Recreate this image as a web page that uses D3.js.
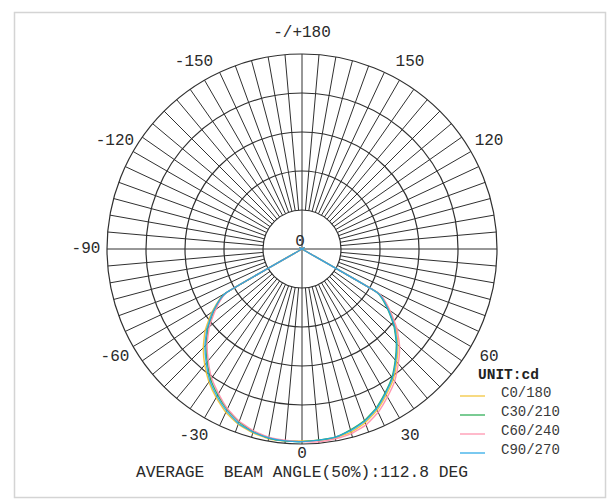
<!DOCTYPE html>
<html><head><meta charset="utf-8">
<script src="https://cdn.jsdelivr.net/npm/d3@7"></script>
<style>html,body{margin:0;padding:0;background:#fff;}svg{display:block;}</style>
</head><body>
<svg id="chart" width="616" height="501"></svg>
<script>
// ---- data ----
const gammaAngles = [-90,-85,-80,-75,-70,-65,-60,-55,-50,-45,-40,-35,-30,-25,-20,-15,-10,-5,0,5,10,15,20,25,30,35,40,45,50,55,60,65,70,75,80,85,90];
const seriesNames = ["C0/180","C30/210","C60/240","C90/270"];
const seriesColors = ["#f2c230","#22a84c","#ff8ca8","#22a6e6"];
const c0_180 = [0,0,0,0,0,0,114,141,162,179,194,208,220,231,239,244,247,247,246,246,246,243,237,228,216,204,189,174,157,137,112,0,0,0,0,0,0];
const c30_210 = [0,0,0,0,0,0,112,137,157,174,189,204,216,227,236,242,246,247,247,246,245,240,234,225,213,201,186,171,154,134,110,0,0,0,0,0,0];
const c60_240 = [0,0,0,0,0,0,111,135,155,172,187,202,214,226,235,241,245,246,247,248,247,245,240,231,219,207,192,177,159,138,113,0,0,0,0,0,0];
const c90_270 = [0,0,0,0,0,0,113,139,159,176,191,206,218,229,238,243,246,247,247,246,245,241,235,226,214,202,187,172,155,135,111,0,0,0,0,0,0];
const seriesValues = [c0_180, c30_210, c60_240, c90_270];
const ringValues = [50,100,150,200,250];
const tickAngles = [180,-150,150,-120,120,-90,-60,60,-30,30,0];
const tickLabels = ["-/+180","-150","150","-120","120","-90","-60","60","-30","30","0"];
const spokeAngles = d3.range(-175, 181, 5);
const footerText = "AVERAGE  BEAM ANGLE(50%):112.8 DEG";
const unitText = "UNIT:cd";

// ---- layout ----
const W = 616, H = 501;
const cx = 302, cy = 249, R = 195;
const font = "'Liberation Mono', 'DejaVu Sans Mono', monospace";

const svg = d3.select("#chart");
svg.append("rect").attr("x",0).attr("y",0).attr("width",W).attr("height",H).attr("fill","#fff");
svg.append("rect").attr("x",14.5).attr("y",12.5).attr("width",591).attr("height",485)
  .attr("fill","none").attr("stroke","#d4d4d4").attr("stroke-width",1.5);

const r = d3.scaleLinear().domain([0, 250]).range([0, R]);
// gamma angle measured from nadir (down), positive to the right; d3 radial angle from 12 o'clock clockwise
const a = d3.scaleLinear().domain([-180, 180]).range([2*Math.PI, 0]);

const g = svg.append("g").attr("transform", `translate(${cx},${cy})`);
const px = (ang, rad) => rad * Math.sin(a(ang));
const py = (ang, rad) => -rad * Math.cos(a(ang));

const gridColor = "#303030";
// spokes every 5 degrees from first ring to outer ring
g.append("g").selectAll("line").data(spokeAngles).join("line")
  .attr("x1", d => px(d, (d % 90 === 0) ? 0 : r(ringValues[0])))
  .attr("y1", d => py(d, (d % 90 === 0) ? 0 : r(ringValues[0])))
  .attr("x2", d => px(d, r(250)))
  .attr("y2", d => py(d, r(250)))
  .attr("stroke", gridColor).attr("stroke-width", 1);

// rings
g.append("g").selectAll("circle").data(ringValues).join("circle")
  .attr("r", d => r(d)).attr("fill","none")
  .attr("stroke", gridColor).attr("stroke-width", 1.2);

// curves
const line = d3.lineRadial()
  .angle(d => a(d[0]))
  .radius(d => r(d[1]))
  .curve(d3.curveCardinal.tension(0.6));
seriesValues.forEach((vals, i) => {
  const pts = gammaAngles.map((ang, j) => [ang, vals[j]]);
  g.append("path").datum(pts).attr("d", line)
    .attr("fill","none").attr("stroke", seriesColors[i]).attr("stroke-width", 1.4)
    .attr("stroke-opacity", 0.9);
});

// tick labels
g.append("g").selectAll("text").data(tickAngles).join("text")
  .attr("x", d => px(d, d === 0 ? R + 10 : R + 21))
  .attr("y", d => py(d, d === 0 ? R + 10 : R + 21))
  .attr("text-anchor","middle").attr("dominant-baseline","central")
  .attr("font-family", font).attr("font-size", 16).attr("fill","#2a2a2a")
  .text((d, i) => tickLabels[i]);

// center radial label
g.append("text").attr("x", -2).attr("y", -7)
  .attr("text-anchor","middle").attr("dominant-baseline","central")
  .attr("font-family", font).attr("font-size", 16).attr("fill","#2a2a2a")
  .text(r.domain()[0]);

// footer
svg.append("text").attr("x", cx).attr("y", 472)
  .attr("text-anchor","middle").attr("dominant-baseline","central")
  .style("white-space","pre")
  .attr("font-family", font).attr("font-size", 16.3).attr("fill","#2a2a2a")
  .text(footerText);

// legend
const lg = svg.append("g");
lg.append("text").attr("x", 478).attr("y", 375).attr("dominant-baseline","central")
  .attr("font-family", font).attr("font-size", 14.5).attr("font-weight","bold").attr("fill","#222")
  .text(unitText);
seriesNames.forEach((name, i) => {
  const y = 393 + i * 19;
  lg.append("line").attr("x1", 460).attr("x2", 485).attr("y1", y + 3).attr("y2", y + 3)
    .attr("stroke", seriesColors[i]).attr("stroke-width", 1.2);
  lg.append("text").attr("x", 501).attr("y", y).attr("dominant-baseline","central")
    .attr("font-family", font).attr("font-size", 14).attr("fill","#3a3a3a")
    .text(name);
});
</script>
</body></html>
